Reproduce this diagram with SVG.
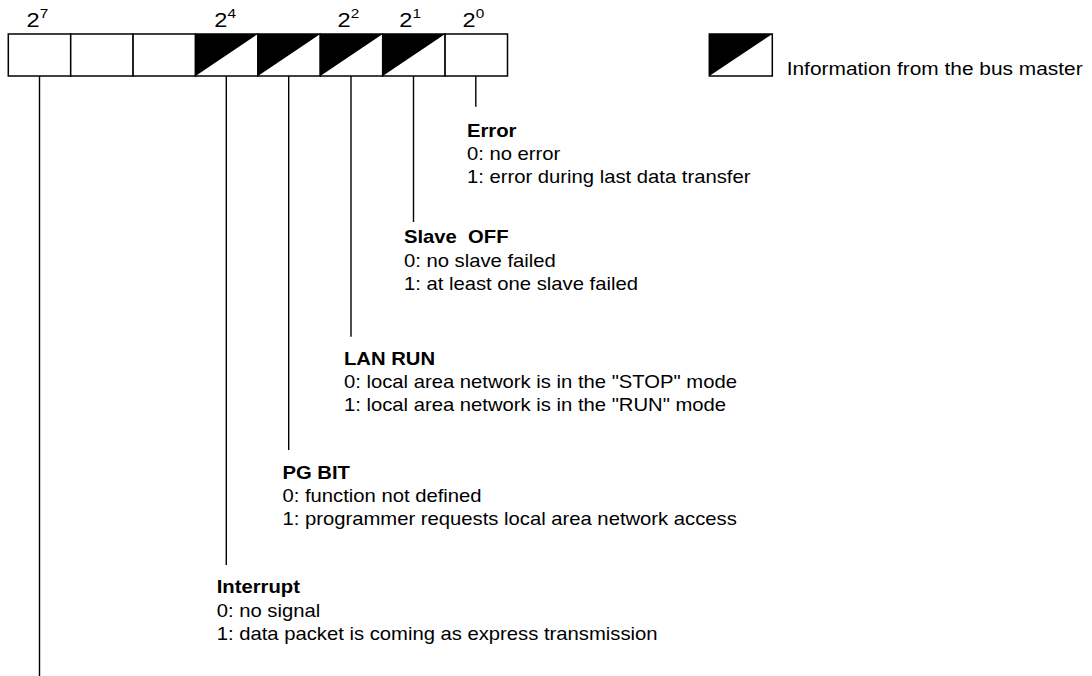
<svg xmlns="http://www.w3.org/2000/svg" width="1092" height="676" viewBox="0 0 1092 676">
<defs>
<style>
text{font-family:"Liberation Sans",Arial,sans-serif;font-size:18.5px;fill:#000}
.b{font-weight:bold}
.exp{font-size:20px}
.sup{font-size:13px}
.cell{fill:#fff;stroke:#000;stroke-width:1.5}
.tri{fill:#000}
.ln{stroke:#000;stroke-width:1.4;fill:none}
</style>
</defs>
<rect width="1092" height="676" fill="#fff"/>
<g id="register">
<rect class="cell" x="8.3" y="34" width="62.4" height="42"/>
<rect class="cell" x="70.7" y="34" width="62.4" height="42"/>
<rect class="cell" x="133.1" y="34" width="62.4" height="42"/>
<rect class="cell" x="195.5" y="34" width="62.4" height="42"/>
<path class="tri" d="M195.5 34H257.9L195.5 76Z"/>
<rect class="cell" x="257.9" y="34" width="62.4" height="42"/>
<path class="tri" d="M257.9 34H320.3L257.9 76Z"/>
<rect class="cell" x="320.3" y="34" width="62.4" height="42"/>
<path class="tri" d="M320.3 34H382.7L320.3 76Z"/>
<rect class="cell" x="382.7" y="34" width="62.4" height="42"/>
<path class="tri" d="M382.7 34H445.1L382.7 76Z"/>
<rect class="cell" x="445.1" y="34" width="62.4" height="42"/>
<text class="exp" transform="translate(26.6 27) scale(1.18 1)">2<tspan class="sup" dy="-9">7</tspan></text>
<text class="exp" transform="translate(214.3 27) scale(1.18 1)">2<tspan class="sup" dy="-9">4</tspan></text>
<text class="exp" transform="translate(337.6 27) scale(1.18 1)">2<tspan class="sup" dy="-9">2</tspan></text>
<text class="exp" transform="translate(399.3 27) scale(1.18 1)">2<tspan class="sup" dy="-9">1</tspan></text>
<text class="exp" transform="translate(462.6 27) scale(1.18 1)">2<tspan class="sup" dy="-9">0</tspan></text>
</g>
<g id="legend">
<rect class="cell" x="709.3" y="34" width="63" height="42"/>
<path class="tri" d="M709.3 34H772.3L709.3 76Z"/>
<text transform="translate(786.7 75) scale(1.13 1)">Information from the bus master</text>
</g>
<g id="connectors">
<line class="ln" x1="475.8" y1="76" x2="475.8" y2="106.7"/>
<line class="ln" x1="413.5" y1="76" x2="413.5" y2="222"/>
<line class="ln" x1="351" y1="76" x2="351" y2="336.7"/>
<line class="ln" x1="288.7" y1="76" x2="288.7" y2="450"/>
<line class="ln" x1="226.3" y1="76" x2="226.3" y2="565"/>
<line class="ln" x1="39.5" y1="76" x2="39.5" y2="676"/>
</g>
<g id="error" transform="translate(467 136.5) scale(1.095 1)">
<text class="b" x="0" y="0">Error</text>
<text x="0" y="23.5">0: no error</text>
<text x="0" y="46.5">1: error during last data transfer</text>
</g>
<g id="slave-off" transform="translate(404 243.3) scale(1.095 1)">
<text class="b" x="0" y="0" xml:space="preserve">Slave  OFF</text>
<text x="0" y="23.4">0: no slave failed</text>
<text x="0" y="46.4">1: at least one slave failed</text>
</g>
<g id="lan-run" transform="translate(344 365) scale(1.095 1)">
<text class="b" x="0" y="0">LAN RUN</text>
<text x="0" y="23.3">0: local area network is in the "STOP" mode</text>
<text x="0" y="45.7">1: local area network is in the "RUN" mode</text>
</g>
<g id="pg-bit" transform="translate(282.5 478.5) scale(1.095 1)">
<text class="b" x="0" y="0">PG BIT</text>
<text x="0" y="24">0: function not defined</text>
<text x="0" y="47">1: programmer requests local area network access</text>
</g>
<g id="interrupt" transform="translate(216.7 593.3) scale(1.095 1)">
<text class="b" x="0" y="0">Interrupt</text>
<text x="0" y="23.4">0: no signal</text>
<text x="0" y="46.7">1: data packet is coming as express transmission</text>
</g>
</svg>
